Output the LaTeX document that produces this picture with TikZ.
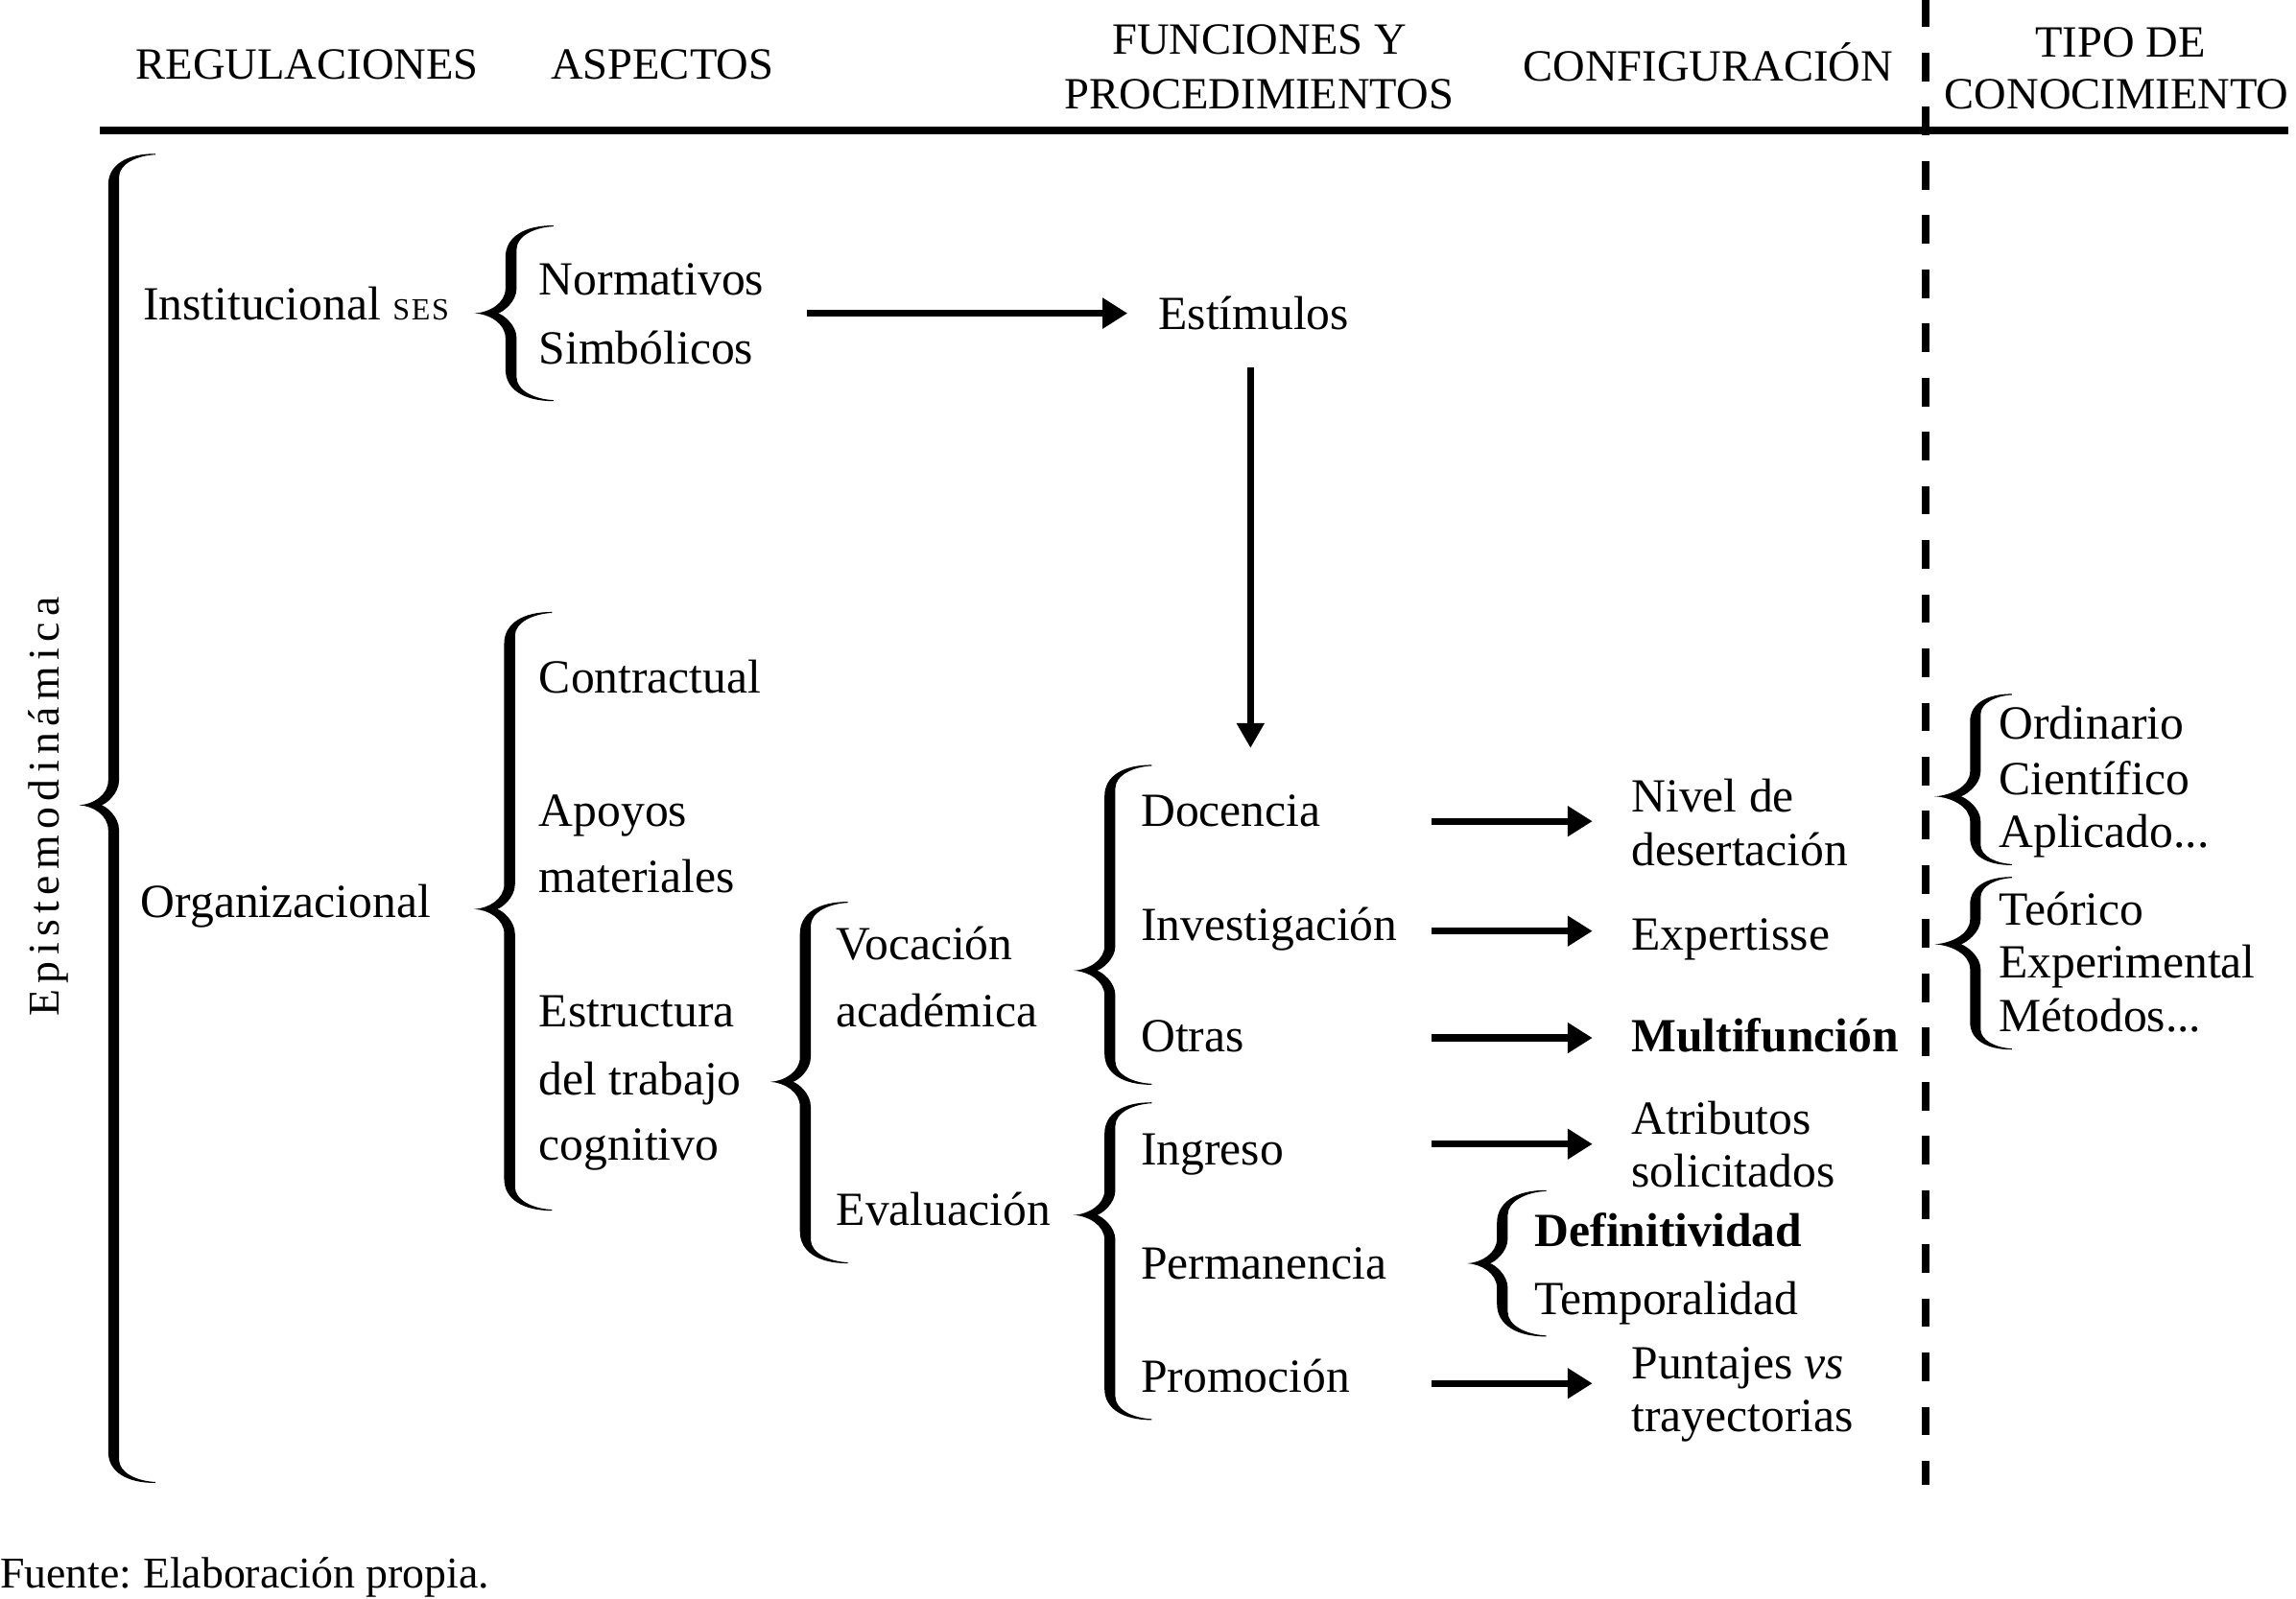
\documentclass[tikz,border=0pt]{standalone}
\usepackage{fontspec}
\setmainfont{Liberation Serif}
\usetikzlibrary{arrows.meta}
\frenchspacing

\newcommand\fsz{\fontsize{32.5}{39}\selectfont}
\newcommand\hsz{\fontsize{30.5}{36}\selectfont}

% calligraphic left brace: #1 stem centre x, #2 top y, #3 cusp y, #4 bottom y, #5 end x, #6 cusp x, #7 stem width
\newcommand\cbrace[7]{%
 \pgfmathsetmacro\bxl{#1-#7/2}%
 \pgfmathsetmacro\bxr{#1+#7/2}%
 \pgfmathsetmacro\bR{#5-#1}%
 \pgfmathsetmacro\bd{#1-#6}%
 \pgfmathsetmacro\hto{0.75*\bR}%
 \pgfmathsetmacro\hti{0.56*\bR}%
 \pgfmathsetmacro\hc{17}%
 \pgfmathsetmacro\bn{#6+0.65*\bd}%
 \pgfmathsetmacro\exo{#5-0.6*(#5-\bxl)}%
 \pgfmathsetmacro\exi{#5-0.5*(#5-\bxr)}%
 \fill (#5,#2)
  .. controls (\exo,#2) and (\bxl,{#2+0.35*\hto}) .. (\bxl,{#2+\hto})
  -- (\bxl,{#3-\hc})
  .. controls (\bxl,{#3-0.4*\hc}) and ({#6+0.4*\bd},{#3-0.5}) .. (#6,#3)
  .. controls ({#6+0.4*\bd},{#3+0.5}) and (\bxl,{#3+0.4*\hc}) .. (\bxl,{#3+\hc})
  -- (\bxl,{#4-\hto})
  .. controls (\bxl,{#4-0.35*\hto}) and (\exo,#4) .. (#5,#4)
  -- (#5,{#4-0.7})
  .. controls (\exi,{#4-1.2}) and (\bxr,{#4-0.44*\hti}) .. (\bxr,{#4-\hti})
  -- (\bxr,{#3+\hc})
  .. controls (\bxr,{#3+0.45*\hc}) and ({\bn+3},{#3+0.8}) .. (\bn,#3)
  .. controls ({\bn+3},{#3-0.8}) and (\bxr,{#3-0.45*\hc}) .. (\bxr,{#3-\hc})
  -- (\bxr,{#2+\hti})
  .. controls (\bxr,{#2+0.44*\hti}) and (\exi,{#2+1.2}) .. (#5,{#2+0.7})
  -- cycle;%
}

\begin{document}
\begin{tikzpicture}[x=1pt,y=-1pt,
  lbl/.style={anchor=west, inner sep=0pt, text height=21.5pt, text depth=0pt, font=\fsz},
  hdr/.style={inner sep=0pt, text height=20.5pt, text depth=0pt, font=\hsz},
  bigarr/.style={line width=4.8pt, -{Triangle[length=17pt,width=20pt]}},
  vertarr/.style={line width=4.2pt, -{Triangle[length=17pt,width=18pt]}},
  rule/.style={line width=5pt},
  dashrule/.style={line width=5pt, dash pattern=on 19.5pt off 17.5pt}
]
\useasboundingbox (0,0) rectangle (1568,1092);

% header
\node[hdr, anchor=west] (hreg) at (92.7,44) {REGULACIONES};
\node[hdr, anchor=west] (hasp) at (376,44) {ASPECTOS};
\node[hdr] (hfun) at (860,27) {FUNCIONES Y};
\node[hdr] (hpro) at (860,64) {PROCEDIMIENTOS};
\node[hdr, anchor=west] (hcon) at (1040,45) {CONFIGURACIÓN};
\node[hdr] (htip) at (1448,29) {TIPO DE};
\node[hdr] (hcono) at (1445.5,64) {CONOCIMIENTO};

\draw[rule] (68,89.2) -- (1563,89.2);
\draw[dashrule] (1315,-1) -- (1315,1014);

% vertical label
\node[inner sep=0pt, text height=20pt, text depth=0pt, rotate=90,
  font=\fontsize{30}{36}\selectfont\addfontfeature{LetterSpace=14}] (epi) at (30.5,551) {Epistemodinámica};

% braces
\cbrace{77.6}{105}{550}{1013}{106}{54}{7.4}
\cbrace{349}{154}{214}{274}{378}{324}{7.6}
\cbrace{348}{418}{621}{827}{377}{324}{7.4}
\cbrace{550}{616}{739}{863}{579}{526}{7.4}
\cbrace{758}{522.5}{663}{741}{786.5}{733}{7.4}
\cbrace{758}{753}{830}{970}{786.5}{733}{7.4}
\cbrace{1026}{813}{863}{913}{1056}{1002}{7.4}
\cbrace{1349}{474}{544}{591}{1374}{1321}{7.2}
\cbrace{1349}{599}{645}{717}{1374}{1321}{7.2}

% columns
\node[lbl] (inst) at (97.5,208) {Institucional {\fontsize{21}{22}\selectfont\addfontfeature{LetterSpace=5}SES}};
\node[lbl] (norm) at (368,191) {Normativos};
\node[lbl] (simb) at (368,238) {Simbólicos};
\node[lbl] (estim) at (791,214) {Estímulos};

\node[lbl] (org) at (96,616) {Organizacional};
\node[lbl] (contr) at (368,462.5) {Contractual};
\node[lbl] (apoy) at (368,554) {Apoyos};
\node[lbl] (mate) at (368,599) {materiales};
\node[lbl] (estr) at (368,691) {Estructura};
\node[lbl] (deltr) at (368,737) {del trabajo};
\node[lbl] (cogn) at (368,782) {cognitivo};

\node[lbl] (voc) at (571,645) {Vocación};
\node[lbl] (acad) at (571,691) {académica};
\node[lbl] (eval) at (571,826) {Evaluación};

\node[lbl] (doc) at (779,554) {Docencia};
\node[lbl] (inv) at (779,632) {Investigación};
\node[lbl] (otr) at (779,708) {Otras};
\node[lbl] (ingr) at (779,785) {Ingreso};
\node[lbl] (perm) at (779,863) {Permanencia};
\node[lbl] (prom) at (779,940) {Promoción};

\node[lbl] (nivel) at (1114,544) {Nivel de};
\node[lbl] (deser) at (1114,580.5) {desertación};
\node[lbl] (expt) at (1114,638.5) {Expertisse};
\node[lbl] (multi) at (1114,708) {\bfseries Multifunción};
\node[lbl] (atri) at (1114,764) {Atributos};
\node[lbl] (soli) at (1114,800) {solicitados};
\node[lbl] (defi) at (1048,841) {\bfseries Definitividad};
\node[lbl] (temp) at (1048,887) {Temporalidad};
\node[lbl] (punt) at (1114,931) {Puntajes \textit{vs}};
\node[lbl] (tray) at (1114,967) {trayectorias};

\node[lbl] (ordi) at (1365,494) {Ordinario};
\node[lbl] (cien) at (1365,532) {Científico};
\node[lbl] (apli) at (1365,568) {Aplicado...};
\node[lbl] (teor) at (1365,621) {Teórico};
\node[lbl] (expe) at (1365,657) {Experimental};
\node[lbl] (meto) at (1365,694) {Métodos...};

\node[anchor=west, inner sep=0pt, text height=20pt, text depth=0pt,
  font=\fontsize{30}{36}\selectfont] (fuente) at (0,1075) {Fuente: Elaboración propia.};

% arrows
\coordinate (a0) at (551,214);
\draw[bigarr] (a0) -- ([xshift=-21pt]estim.west);

\coordinate (vtip) at (854,511);
\draw[vertarr] ([yshift=-26pt]vtip |- estim.south) -- (vtip);

\coordinate (c1) at (977.5,561);
\coordinate (c2) at (977.5,636);
\coordinate (c3) at (977.5,709);
\coordinate (c4) at (977.5,781.5);
\coordinate (c5) at (977.5,945);
\draw[bigarr, shorten >=26.5pt] (c1) -- (c1 -| nivel.west);
\draw[bigarr, shorten >=26.5pt] (c2) -- (c2 -| expt.west);
\draw[bigarr, shorten >=26.5pt] (c3) -- (c3 -| multi.west);
\draw[bigarr, shorten >=26.5pt] (c4) -- (c4 -| atri.west);
\draw[bigarr, shorten >=26.5pt] (c5) -- (c5 -| punt.west);
\end{tikzpicture}
\end{document}
